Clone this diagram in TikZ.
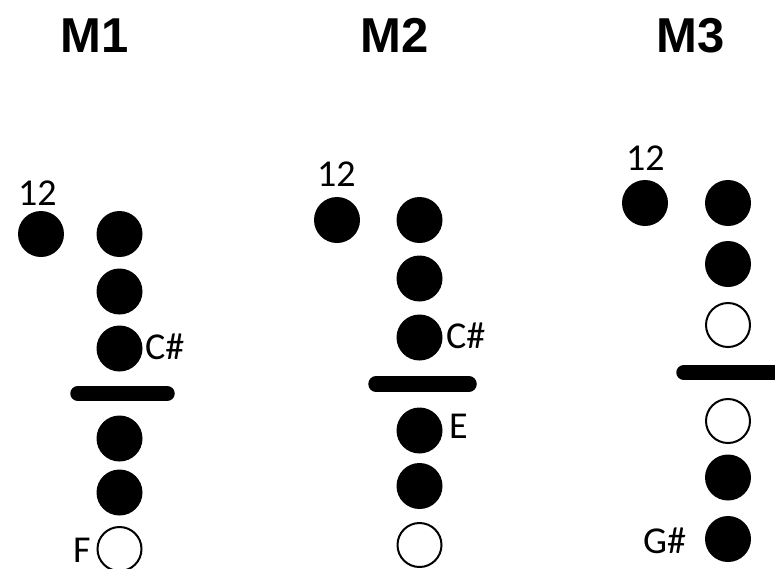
\documentclass[tikz,border=0pt]{standalone}
\usepackage{fontspec}
\newfontfamily\titlefont{Liberation Sans}
\newfontfamily\labelfont{Carlito}
\begin{document}
\begin{tikzpicture}[x=1pt,y=-1pt,
  hole/.style={circle,fill=black,draw=none,minimum size=46pt,inner sep=0pt},
  openhole/.style={circle,draw=black,fill=white,line width=2pt,minimum size=44pt,inner sep=0pt},
  divider/.style={line width=15.5pt,line cap=round},
  title/.style={font=\titlefont\bfseries\fontsize{49}{49}\selectfont,inner sep=0pt,anchor=base},
  lbl/.style={font=\labelfont\fontsize{38}{38}\selectfont,inner sep=0pt,text depth=0pt,anchor=base west}]
\useasboundingbox (0,0) rectangle (775,568);
\clip (0,0) rectangle (775,568);
% titles
\node[title] (t1) at (94.5,52) {M1};
\node[title] (t2) at (395,52) {M2};
\node[title] (t3) at (690.5,52) {M3};
% ---------- M1 ----------
\node[lbl] (a12l) at (18,205) {12};
\node[hole] (a12) at (41,234) {};
\node[hole] (a1) at (119.5,234) {};
\node[hole] (a2) at (119.5,291.5) {};
\node[hole] (a3) at (119.5,348.5) {};
\coordinate (abl) at (78,393.5);
\coordinate (abr) at (167,393.5);
\draw[divider] (abl) -- (abr);
\node[hole] (a4) at (119.5,438.5) {};
\node[hole] (a5) at (119.5,492.5) {};
\node[openhole] (a6) at (119.5,549) {};
\node[lbl] (acs) at (145,359) {C\#};
\node[lbl] (af) at (73,562) {F};
% ---------- M2 ----------
\node[lbl] (b12l) at (317,186) {12};
\node[hole] (b12) at (337,220) {};
\node[hole] (b1) at (419.5,220) {};
\node[hole] (b2) at (419.5,278.5) {};
\node[hole] (b3) at (419.5,337.5) {};
\coordinate (bbl) at (376,384);
\coordinate (bbr) at (469,384);
\draw[divider] (bbl) -- (bbr);
\node[hole] (b4) at (419.5,430.5) {};
\node[hole] (b5) at (419.5,486) {};
\node[openhole] (b6) at (419.5,545) {};
\node[lbl] (bcs) at (446,348) {C\#};
\node[lbl] (be) at (449,438) {E};
% ---------- M3 ----------
\node[lbl] (c12l) at (626,170) {12};
\node[hole] (c12) at (645,203) {};
\node[hole] (c1) at (728,203) {};
\node[hole] (c2) at (728,264) {};
\node[openhole] (c3) at (728,325) {};
\coordinate (cbl) at (684,372.5);
\coordinate (cbr) at (800,372.5);
\draw[divider] (cbl) -- (cbr);
\node[openhole] (c4) at (728,421) {};
\node[hole] (c5) at (728,477.5) {};
\node[hole] (c6) at (728,539) {};
\node[lbl] (cgs) at (643,553) {G\#};
\end{tikzpicture}
\end{document}
